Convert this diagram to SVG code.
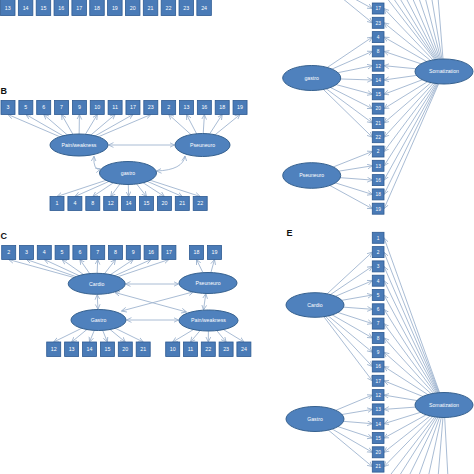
<svg xmlns="http://www.w3.org/2000/svg" width="474" height="474" viewBox="0 0 474 474">
<defs>
<marker id="a" markerUnits="userSpaceOnUse" markerWidth="7" markerHeight="7" refX="5" refY="3" orient="auto-start-reverse"><path d="M0,0.6 L5,3 L0,5.4" fill="none" stroke="#98afcb" stroke-width="0.8"/></marker>
</defs>
<style>
.c{stroke:#9fb4cf;stroke-width:0.9;fill:none;marker-end:url(#a)}
.d{stroke:#9fb4cf;stroke-width:0.9;fill:none;marker-end:url(#a);marker-start:url(#a)}
.n{stroke:#9fb4cf;stroke-width:0.9;fill:none}
.bx{fill:#4a7bb7;stroke:#2d5a92;stroke-width:0.8}
.el{fill:#4f81bd;stroke:#36618f;stroke-width:1}
.t{font-family:"Liberation Sans",Arial,sans-serif;font-size:5.3px;fill:#ffffff;text-anchor:middle}
.s{font-family:"Liberation Sans",Arial,sans-serif;font-size:4.8px;fill:#ffffff;text-anchor:middle}
.e{font-family:"Liberation Sans",Arial,sans-serif;font-size:5.2px;fill:#ffffff;text-anchor:middle}
.L{font-family:"Liberation Sans",Arial,sans-serif;font-size:9px;font-weight:bold;fill:#111}
</style>

<g id="connectors">
<!-- B -->
<path class="c" d="M79,145 L8,114.5"/><path class="c" d="M79,145 L25.9,114.5"/><path class="c" d="M79,145 L43.7,114.5"/><path class="c" d="M79,145 L61.6,114.5"/><path class="c" d="M79,145 L79.4,114.5"/><path class="c" d="M79,145 L97.3,114.5"/><path class="c" d="M79,145 L115.1,114.5"/><path class="c" d="M79,145 L133,114.5"/><path class="c" d="M79,145 L150.8,114.5"/>
<path class="c" d="M202.5,145 L168.7,114.5"/><path class="c" d="M202.5,145 L186.5,114.5"/><path class="c" d="M202.5,145 L204.4,114.5"/><path class="c" d="M202.5,145 L222.2,114.5"/><path class="c" d="M202.5,145 L240,114.5"/>
<path class="c" d="M128,173 L57,196.5"/><path class="c" d="M128,173 L74.9,196.5"/><path class="c" d="M128,173 L92.8,196.5"/><path class="c" d="M128,173 L110.7,196.5"/><path class="c" d="M128,173 L128.6,196.5"/><path class="c" d="M128,173 L146.5,196.5"/><path class="c" d="M128,173 L164.4,196.5"/><path class="c" d="M128,173 L182.3,196.5"/><path class="c" d="M128,173 L200.2,196.5"/>
<path class="d" d="M108.5,145 L174.5,145"/>
<path class="d" d="M94,156.3 Q93,171 100.5,169"/>
<path class="d" d="M156.5,171 Q183,170 185,156"/>
<!-- C -->
<path class="c" d="M96.7,283.8 L8.7,259.5"/><path class="c" d="M96.7,283.8 L26.5,259.5"/><path class="c" d="M96.7,283.8 L44.3,259.5"/><path class="c" d="M96.7,283.8 L62.1,259.5"/><path class="c" d="M96.7,283.8 L79.9,259.5"/><path class="c" d="M96.7,283.8 L97.7,259.5"/><path class="c" d="M96.7,283.8 L115.5,259.5"/><path class="c" d="M96.7,283.8 L133.3,259.5"/><path class="c" d="M96.7,283.8 L151.1,259.5"/><path class="c" d="M96.7,283.8 L168.9,259.5"/>
<path class="c" d="M208,283 L196.5,259.5"/><path class="c" d="M208,283 L214.5,259.5"/>
<path class="c" d="M98.5,320 L53.7,342"/><path class="c" d="M98.5,320 L71.6,342"/><path class="c" d="M98.5,320 L89.5,342"/><path class="c" d="M98.5,320 L107.4,342"/><path class="c" d="M98.5,320 L125.3,342"/><path class="c" d="M98.5,320 L143.2,342"/>
<path class="c" d="M208.5,320.5 L172.7,342"/><path class="c" d="M208.5,320.5 L190.5,342"/><path class="c" d="M208.5,320.5 L208.3,342"/><path class="c" d="M208.5,320.5 L226.1,342"/><path class="c" d="M208.5,320.5 L243.9,342"/>
<path class="d" d="M125.5,284 L178.5,284"/>
<path class="d" d="M126.5,320 L178.5,320"/>
<path class="d" d="M97.2,294.6 L98,309.3"/>
<path class="d" d="M205.8,293.6 L203.5,310"/>
<path class="d" d="M115,292.5 L186.5,312"/>
<path class="d" d="M121.5,311 L193.5,291.8"/>
<!-- D -->
<path class="c" d="M311.7,78 L372.3,37.1"/><path class="c" d="M311.7,78 L372.3,51.4"/><path class="c" d="M311.7,78 L372.3,65.7"/><path class="c" d="M311.7,78 L372.3,80"/><path class="c" d="M311.7,78 L372.3,94.3"/><path class="c" d="M311.7,78 L372.3,108.6"/><path class="c" d="M311.7,78 L372.3,122.9"/><path class="c" d="M311.7,78 L372.3,137.2"/>
<path class="c" d="M311.7,175.5 L372.3,151.5"/><path class="c" d="M311.7,175.5 L372.3,165.8"/><path class="c" d="M311.7,175.5 L372.3,180.1"/><path class="c" d="M311.7,175.5 L372.3,194.4"/><path class="c" d="M311.7,175.5 L372.3,208.7"/>
<path class="c" d="M320,-20 L372.3,8.5"/><path class="c" d="M320,-20 L372.3,22.8"/>
<path class="c" d="M444,71.5 L384,8.5"/><path class="c" d="M444,71.5 L384,22.8"/><path class="c" d="M444,71.5 L384,37.1"/><path class="c" d="M444,71.5 L384,51.4"/><path class="c" d="M444,71.5 L384,65.7"/><path class="c" d="M444,71.5 L384,80"/><path class="c" d="M444,71.5 L384,94.3"/><path class="c" d="M444,71.5 L384,108.6"/><path class="c" d="M444,71.5 L384,122.9"/><path class="c" d="M444,71.5 L384,137.2"/><path class="c" d="M444,71.5 L384,151.5"/><path class="c" d="M444,71.5 L384,165.8"/><path class="c" d="M444,71.5 L384,180.1"/><path class="c" d="M444,71.5 L384,194.4"/><path class="c" d="M444,71.5 L384,208.7"/>
<path class="n" d="M444,71.5 L386,-3"/><path class="n" d="M444,71.5 L392.5,-3"/><path class="n" d="M444,71.5 L399,-3"/><path class="n" d="M444,71.5 L405.5,-3"/><path class="n" d="M444,71.5 L412,-3"/><path class="n" d="M444,71.5 L418.5,-3"/><path class="n" d="M444,71.5 L425,-3"/><path class="n" d="M444,71.5 L431.5,-3"/><path class="n" d="M444,71.5 L438,-3"/>
<!-- E -->
<path class="c" d="M315,305 L372.3,252.1"/><path class="c" d="M315,305 L372.3,266.4"/><path class="c" d="M315,305 L372.3,280.7"/><path class="c" d="M315,305 L372.3,295"/><path class="c" d="M315,305 L372.3,309.3"/><path class="c" d="M315,305 L372.3,323.6"/><path class="c" d="M315,305 L372.3,337.9"/><path class="c" d="M315,305 L372.3,352.2"/><path class="c" d="M315,305 L372.3,366.5"/><path class="c" d="M315,305 L372.3,380.8"/>
<path class="c" d="M315,419 L372.3,395.1"/><path class="c" d="M315,419 L372.3,409.4"/><path class="c" d="M315,419 L372.3,423.7"/><path class="c" d="M315,419 L372.3,438"/><path class="c" d="M315,419 L372.3,452.3"/><path class="c" d="M315,419 L372.3,466.6"/>
<path class="c" d="M444,405 L384,237.8"/><path class="c" d="M444,405 L384,252.1"/><path class="c" d="M444,405 L384,266.4"/><path class="c" d="M444,405 L384,280.7"/><path class="c" d="M444,405 L384,295"/><path class="c" d="M444,405 L384,309.3"/><path class="c" d="M444,405 L384,323.6"/><path class="c" d="M444,405 L384,337.9"/><path class="c" d="M444,405 L384,352.2"/><path class="c" d="M444,405 L384,366.5"/><path class="c" d="M444,405 L384,380.8"/><path class="c" d="M444,405 L384,395.1"/><path class="c" d="M444,405 L384,409.4"/><path class="c" d="M444,405 L384,423.7"/><path class="c" d="M444,405 L384,438"/><path class="c" d="M444,405 L384,452.3"/><path class="c" d="M444,405 L384,466.6"/>
<path class="n" d="M444,405 L388,478"/><path class="n" d="M444,405 L398,478"/><path class="n" d="M444,405 L408,478"/><path class="n" d="M444,405 L418,478"/><path class="n" d="M444,405 L428,478"/><path class="n" d="M444,405 L438,478"/><path class="n" d="M444,405 L448,478"/>
</g>

<!-- Panel A bottom row -->
<g id="A13"><rect class="bx" x="0.5" y="-1" width="14.5" height="16.5"/><text class="t" x="7.75" y="9.5">13</text></g>
<g id="A14"><rect class="bx" x="18.35" y="-1" width="14.5" height="16.5"/><text class="t" x="25.6" y="9.5">14</text></g>
<g id="A15"><rect class="bx" x="36.2" y="-1" width="14.5" height="16.5"/><text class="t" x="43.45" y="9.5">15</text></g>
<g id="A16"><rect class="bx" x="54.05" y="-1" width="14.5" height="16.5"/><text class="t" x="61.3" y="9.5">16</text></g>
<g id="A17"><rect class="bx" x="71.9" y="-1" width="14.5" height="16.5"/><text class="t" x="79.15" y="9.5">17</text></g>
<g id="A18"><rect class="bx" x="89.75" y="-1" width="14.5" height="16.5"/><text class="t" x="97" y="9.5">18</text></g>
<g id="A19"><rect class="bx" x="107.6" y="-1" width="14.5" height="16.5"/><text class="t" x="114.85" y="9.5">19</text></g>
<g id="A20"><rect class="bx" x="125.45" y="-1" width="14.5" height="16.5"/><text class="t" x="132.7" y="9.5">20</text></g>
<g id="A21"><rect class="bx" x="143.3" y="-1" width="14.5" height="16.5"/><text class="t" x="150.55" y="9.5">21</text></g>
<g id="A22"><rect class="bx" x="161.15" y="-1" width="14.5" height="16.5"/><text class="t" x="168.4" y="9.5">22</text></g>
<g id="A23"><rect class="bx" x="179" y="-1" width="14.5" height="16.5"/><text class="t" x="186.25" y="9.5">23</text></g>
<g id="A24"><rect class="bx" x="196.85" y="-1" width="14.5" height="16.5"/><text class="t" x="204.1" y="9.5">24</text></g>

<!-- Panel B -->
<text class="L" x="0.5" y="94">B</text>
<g id="B3"><rect class="bx" x="1" y="100.5" width="14" height="14"/><text class="t" x="8" y="109.4">3</text></g>
<g id="B5"><rect class="bx" x="18.85" y="100.5" width="14" height="14"/><text class="t" x="25.85" y="109.4">5</text></g>
<g id="B6"><rect class="bx" x="36.7" y="100.5" width="14" height="14"/><text class="t" x="43.7" y="109.4">6</text></g>
<g id="B7"><rect class="bx" x="54.55" y="100.5" width="14" height="14"/><text class="t" x="61.55" y="109.4">7</text></g>
<g id="B9"><rect class="bx" x="72.4" y="100.5" width="14" height="14"/><text class="t" x="79.4" y="109.4">9</text></g>
<g id="B10"><rect class="bx" x="90.25" y="100.5" width="14" height="14"/><text class="t" x="97.25" y="109.4">10</text></g>
<g id="B11"><rect class="bx" x="108.1" y="100.5" width="14" height="14"/><text class="t" x="115.1" y="109.4">11</text></g>
<g id="B17"><rect class="bx" x="125.95" y="100.5" width="14" height="14"/><text class="t" x="132.95" y="109.4">17</text></g>
<g id="B23"><rect class="bx" x="143.8" y="100.5" width="14" height="14"/><text class="t" x="150.8" y="109.4">23</text></g>
<g id="B2"><rect class="bx" x="161.65" y="100.5" width="14" height="14"/><text class="t" x="168.65" y="109.4">2</text></g>
<g id="B13"><rect class="bx" x="179.5" y="100.5" width="14" height="14"/><text class="t" x="186.5" y="109.4">13</text></g>
<g id="B16"><rect class="bx" x="197.35" y="100.5" width="14" height="14"/><text class="t" x="204.35" y="109.4">16</text></g>
<g id="B18"><rect class="bx" x="215.2" y="100.5" width="14" height="14"/><text class="t" x="222.2" y="109.4">18</text></g>
<g id="B19"><rect class="bx" x="233.05" y="100.5" width="14" height="14"/><text class="t" x="240.05" y="109.4">19</text></g>
<g id="B-pain"><ellipse class="el" cx="79" cy="145" rx="29" ry="11"/><text class="e" x="79" y="146.8">Pain/weakness</text></g>
<g id="B-pseuneuro"><ellipse class="el" cx="202.5" cy="145" rx="27.5" ry="11.5"/><text class="e" x="202.5" y="146.8">Pseuneuro</text></g>
<g id="B-gastro"><ellipse class="el" cx="128" cy="173" rx="28.5" ry="11.5"/><text class="e" x="128" y="174.8">gastro</text></g>
<g id="B1"><rect class="bx" x="50" y="196.5" width="14" height="14"/><text class="t" x="57" y="205.4">1</text></g>
<g id="B4"><rect class="bx" x="67.9" y="196.5" width="14" height="14"/><text class="t" x="74.9" y="205.4">4</text></g>
<g id="B8"><rect class="bx" x="85.8" y="196.5" width="14" height="14"/><text class="t" x="92.8" y="205.4">8</text></g>
<g id="B12"><rect class="bx" x="103.7" y="196.5" width="14" height="14"/><text class="t" x="110.7" y="205.4">12</text></g>
<g id="B14"><rect class="bx" x="121.6" y="196.5" width="14" height="14"/><text class="t" x="128.6" y="205.4">14</text></g>
<g id="B15"><rect class="bx" x="139.5" y="196.5" width="14" height="14"/><text class="t" x="146.5" y="205.4">15</text></g>
<g id="B20"><rect class="bx" x="157.4" y="196.5" width="14" height="14"/><text class="t" x="164.4" y="205.4">20</text></g>
<g id="B21"><rect class="bx" x="175.3" y="196.5" width="14" height="14"/><text class="t" x="182.3" y="205.4">21</text></g>
<g id="B22"><rect class="bx" x="193.2" y="196.5" width="14" height="14"/><text class="t" x="200.2" y="205.4">22</text></g>

<!-- Panel C -->
<text class="L" x="0.5" y="239">C</text>
<g id="C2"><rect class="bx" x="1.7" y="245.5" width="14" height="14"/><text class="t" x="8.7" y="254.4">2</text></g>
<g id="C3"><rect class="bx" x="19.5" y="245.5" width="14" height="14"/><text class="t" x="26.5" y="254.4">3</text></g>
<g id="C4"><rect class="bx" x="37.3" y="245.5" width="14" height="14"/><text class="t" x="44.3" y="254.4">4</text></g>
<g id="C5"><rect class="bx" x="55.1" y="245.5" width="14" height="14"/><text class="t" x="62.1" y="254.4">5</text></g>
<g id="C6"><rect class="bx" x="72.9" y="245.5" width="14" height="14"/><text class="t" x="79.9" y="254.4">6</text></g>
<g id="C7"><rect class="bx" x="90.7" y="245.5" width="14" height="14"/><text class="t" x="97.7" y="254.4">7</text></g>
<g id="C8"><rect class="bx" x="108.5" y="245.5" width="14" height="14"/><text class="t" x="115.5" y="254.4">8</text></g>
<g id="C9"><rect class="bx" x="126.3" y="245.5" width="14" height="14"/><text class="t" x="133.3" y="254.4">9</text></g>
<g id="C16"><rect class="bx" x="144.1" y="245.5" width="14" height="14"/><text class="t" x="151.1" y="254.4">16</text></g>
<g id="C17"><rect class="bx" x="161.9" y="245.5" width="14" height="14"/><text class="t" x="168.9" y="254.4">17</text></g>
<g id="C18"><rect class="bx" x="189.5" y="245.5" width="14" height="14"/><text class="t" x="196.5" y="254.4">18</text></g>
<g id="C19"><rect class="bx" x="207.5" y="245.5" width="14" height="14"/><text class="t" x="214.5" y="254.4">19</text></g>
<g id="C-cardio"><ellipse class="el" cx="96.7" cy="283.8" rx="28.5" ry="10.5"/><text class="e" x="96.7" y="285.6">Cardio</text></g>
<g id="C-pseuneuro"><ellipse class="el" cx="208" cy="283" rx="29" ry="10.5"/><text class="e" x="208" y="284.8">Pseuneuro</text></g>
<g id="C-gastro"><ellipse class="el" cx="98.5" cy="320" rx="27.5" ry="10.5"/><text class="e" x="98.5" y="321.8">Gastro</text></g>
<g id="C-pain"><ellipse class="el" cx="208.5" cy="320.5" rx="29.5" ry="10.5"/><text class="e" x="208.5" y="322.3">Pain/weakness</text></g>
<g id="C12"><rect class="bx" x="46.7" y="342" width="14" height="14.5"/><text class="t" x="53.7" y="351.1">12</text></g>
<g id="C13"><rect class="bx" x="64.6" y="342" width="14" height="14.5"/><text class="t" x="71.6" y="351.1">13</text></g>
<g id="C14"><rect class="bx" x="82.5" y="342" width="14" height="14.5"/><text class="t" x="89.5" y="351.1">14</text></g>
<g id="C15"><rect class="bx" x="100.4" y="342" width="14" height="14.5"/><text class="t" x="107.4" y="351.1">15</text></g>
<g id="C20"><rect class="bx" x="118.3" y="342" width="14" height="14.5"/><text class="t" x="125.3" y="351.1">20</text></g>
<g id="C21"><rect class="bx" x="136.2" y="342" width="14" height="14.5"/><text class="t" x="143.2" y="351.1">21</text></g>
<g id="C10"><rect class="bx" x="165.7" y="342" width="14" height="14.5"/><text class="t" x="172.7" y="351.1">10</text></g>
<g id="C11"><rect class="bx" x="183.5" y="342" width="14" height="14.5"/><text class="t" x="190.5" y="351.1">11</text></g>
<g id="C22"><rect class="bx" x="201.3" y="342" width="14" height="14.5"/><text class="t" x="208.3" y="351.1">22</text></g>
<g id="C23"><rect class="bx" x="219.1" y="342" width="14" height="14.5"/><text class="t" x="226.1" y="351.1">23</text></g>
<g id="C24"><rect class="bx" x="236.9" y="342" width="14" height="14.5"/><text class="t" x="243.9" y="351.1">24</text></g>

<!-- Panel D -->
<g id="D17"><rect class="bx" x="372.3" y="3" width="11.7" height="11"/><text class="s" x="378.15" y="10.3">17</text></g>
<g id="D23"><rect class="bx" x="372.3" y="17.3" width="11.7" height="11"/><text class="s" x="378.15" y="24.6">23</text></g>
<g id="D4"><rect class="bx" x="372.3" y="31.6" width="11.7" height="11"/><text class="s" x="378.15" y="38.9">4</text></g>
<g id="D8"><rect class="bx" x="372.3" y="45.9" width="11.7" height="11"/><text class="s" x="378.15" y="53.2">8</text></g>
<g id="D12"><rect class="bx" x="372.3" y="60.2" width="11.7" height="11"/><text class="s" x="378.15" y="67.5">12</text></g>
<g id="D14"><rect class="bx" x="372.3" y="74.5" width="11.7" height="11"/><text class="s" x="378.15" y="81.8">14</text></g>
<g id="D15"><rect class="bx" x="372.3" y="88.8" width="11.7" height="11"/><text class="s" x="378.15" y="96.1">15</text></g>
<g id="D20"><rect class="bx" x="372.3" y="103.1" width="11.7" height="11"/><text class="s" x="378.15" y="110.4">20</text></g>
<g id="D21"><rect class="bx" x="372.3" y="117.4" width="11.7" height="11"/><text class="s" x="378.15" y="124.7">21</text></g>
<g id="D22"><rect class="bx" x="372.3" y="131.7" width="11.7" height="11"/><text class="s" x="378.15" y="139">22</text></g>
<g id="D2"><rect class="bx" x="372.3" y="146" width="11.7" height="11"/><text class="s" x="378.15" y="153.3">2</text></g>
<g id="D13"><rect class="bx" x="372.3" y="160.3" width="11.7" height="11"/><text class="s" x="378.15" y="167.6">13</text></g>
<g id="D16"><rect class="bx" x="372.3" y="174.6" width="11.7" height="11"/><text class="s" x="378.15" y="181.9">16</text></g>
<g id="D18"><rect class="bx" x="372.3" y="188.9" width="11.7" height="11"/><text class="s" x="378.15" y="196.2">18</text></g>
<g id="D19"><rect class="bx" x="372.3" y="203.2" width="11.7" height="11"/><text class="s" x="378.15" y="210.5">19</text></g>
<g id="D-gastro"><ellipse class="el" cx="311.7" cy="78" rx="29" ry="12.5"/><text class="e" x="311.7" y="79.8">gastro</text></g>
<g id="D-pseuneuro"><ellipse class="el" cx="311.7" cy="175.5" rx="29" ry="12.8"/><text class="e" x="311.7" y="177.3">Pseuneuro</text></g>
<g id="D-somatization"><ellipse class="el" cx="444" cy="71.5" rx="29" ry="12.5"/><text class="e" x="444" y="73.3">Somatization</text></g>

<!-- Panel E -->
<text class="L" x="286.5" y="236">E</text>
<g id="E1"><rect class="bx" x="372.3" y="232.3" width="11.7" height="11"/><text class="s" x="378.15" y="239.6">1</text></g>
<g id="E2"><rect class="bx" x="372.3" y="246.6" width="11.7" height="11"/><text class="s" x="378.15" y="253.9">2</text></g>
<g id="E3"><rect class="bx" x="372.3" y="260.9" width="11.7" height="11"/><text class="s" x="378.15" y="268.2">3</text></g>
<g id="E4"><rect class="bx" x="372.3" y="275.2" width="11.7" height="11"/><text class="s" x="378.15" y="282.5">4</text></g>
<g id="E5"><rect class="bx" x="372.3" y="289.5" width="11.7" height="11"/><text class="s" x="378.15" y="296.8">5</text></g>
<g id="E6"><rect class="bx" x="372.3" y="303.8" width="11.7" height="11"/><text class="s" x="378.15" y="311.1">6</text></g>
<g id="E7"><rect class="bx" x="372.3" y="318.1" width="11.7" height="11"/><text class="s" x="378.15" y="325.4">7</text></g>
<g id="E8"><rect class="bx" x="372.3" y="332.4" width="11.7" height="11"/><text class="s" x="378.15" y="339.7">8</text></g>
<g id="E9"><rect class="bx" x="372.3" y="346.7" width="11.7" height="11"/><text class="s" x="378.15" y="354">9</text></g>
<g id="E16"><rect class="bx" x="372.3" y="361" width="11.7" height="11"/><text class="s" x="378.15" y="368.3">16</text></g>
<g id="E17"><rect class="bx" x="372.3" y="375.3" width="11.7" height="11"/><text class="s" x="378.15" y="382.6">17</text></g>
<g id="E12"><rect class="bx" x="372.3" y="389.6" width="11.7" height="11"/><text class="s" x="378.15" y="396.9">12</text></g>
<g id="E13"><rect class="bx" x="372.3" y="403.9" width="11.7" height="11"/><text class="s" x="378.15" y="411.2">13</text></g>
<g id="E14"><rect class="bx" x="372.3" y="418.2" width="11.7" height="11"/><text class="s" x="378.15" y="425.5">14</text></g>
<g id="E15"><rect class="bx" x="372.3" y="432.5" width="11.7" height="11"/><text class="s" x="378.15" y="439.8">15</text></g>
<g id="E20"><rect class="bx" x="372.3" y="446.8" width="11.7" height="11"/><text class="s" x="378.15" y="454.1">20</text></g>
<g id="E21"><rect class="bx" x="372.3" y="461.1" width="11.7" height="11"/><text class="s" x="378.15" y="468.4">21</text></g>
<g id="E-cardio"><ellipse class="el" cx="315" cy="305" rx="29" ry="12.3"/><text class="e" x="315" y="306.8">Cardio</text></g>
<g id="E-gastro"><ellipse class="el" cx="315" cy="419" rx="29" ry="12.5"/><text class="e" x="315" y="420.8">Gastro</text></g>
<g id="E-somatization"><ellipse class="el" cx="444" cy="405" rx="29" ry="12.5"/><text class="e" x="444" y="406.8">Somatization</text></g>
</svg>
